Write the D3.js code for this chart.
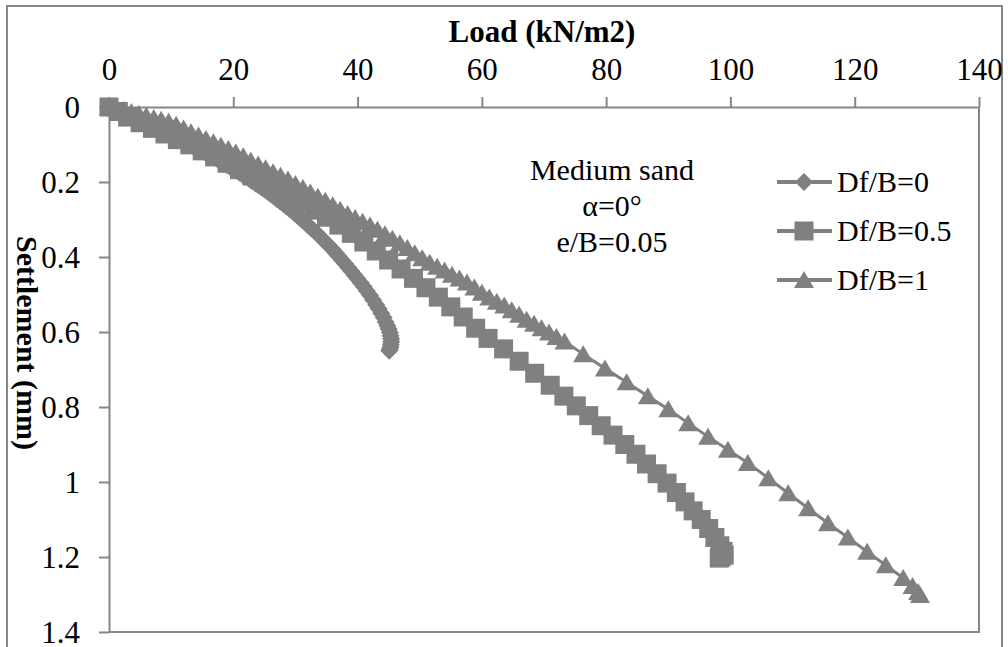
<!DOCTYPE html>
<html>
<head>
<meta charset="utf-8">
<title>Load - settlement</title>
<script src="https://cdn.jsdelivr.net/npm/d3@7"></script>
<style>
  body { margin: 0; background: #fff; }
  text { font-family: "Liberation Serif", "Times New Roman", serif; fill: #000; }
</style>
</head>
<body>
<script>
// load (kN/m2) vs settlement (mm)
var seriesNames = ["Df/B=0", "Df/B=0.5", "Df/B=1"];

var load0 = [0,0.5,1,1.5,2,2.5,3,3.5,4,4.5,5,5.5,6,6.5,7,7.5,8,8.5,9,9.5,10,10.5,11,11.5,12,12.5,
  13,13.5,14,14.5,15,15.5,16,16.5,17,17.5,18,18.5,19,19.5,20,20.5,21,21.5,22,22.5,23,23.5,24,24.5,
  25,25.5,26,26.5,27,27.5,28,28.5,29,29.5,30,30.5,31,31.5,32,32.5,33,33.5,34,34.5,35,35.5,36,36.5,
  37,37.5,38,38.5,39,39.5,40,40.5,41,41.5,42,42.5,43,43.4,43.8,44.2,44.5,44.8,45,45.2,45.3,45.4,
  45.4,45.35,45.3,45.2,45.1];
var settle0 = [0,0.0035,0.007,0.0105,0.014,0.0175,0.021,0.0245,0.028,0.032,0.036,0.0395,0.043,0.047,
  0.051,0.055,0.059,0.063,0.067,0.071,0.075,0.079,0.083,0.087,0.091,0.0955,0.1,0.104,0.108,0.1125,
  0.117,0.1215,0.126,0.1305,0.135,0.14,0.145,0.15,0.155,0.16,0.165,0.17,0.175,0.1805,0.186,0.1915,
  0.197,0.2025,0.208,0.214,0.22,0.226,0.232,0.2385,0.245,0.2515,0.258,0.2645,0.271,0.278,0.285,
  0.2925,0.3,0.3075,0.315,0.3225,0.33,0.338,0.346,0.3545,0.363,0.3715,0.38,0.3895,0.399,0.4085,
  0.418,0.428,0.438,0.448,0.458,0.4685,0.479,0.4905,0.502,0.5145,0.527,0.538,0.55,0.561,0.573,
  0.583,0.592,0.601,0.61,0.618,0.626,0.633,0.64,0.645,0.65];

var load05 = [0,1.5,3,5,7,9,11,13,15,17,19,21,23,25,27,29,31,33,35,37,39,41,43,45,47,49,51,53,55,
  57,59,61,63.5,66,68.5,71,73.2,75.2,77.2,79.2,81.1,83,84.8,86.5,88.2,89.8,91.3,92.7,94,95.3,
  96.5,97.5,98.3,98.8,99,98.5,98.2];
var settle05 = [0,0.012,0.027,0.042,0.057,0.072,0.087,0.101,0.117,0.133,0.15,0.167,0.184,0.202,
  0.22,0.238,0.256,0.275,0.294,0.315,0.337,0.36,0.384,0.408,0.432,0.457,0.482,0.507,0.533,0.56,
  0.59,0.617,0.645,0.678,0.71,0.742,0.771,0.797,0.823,0.85,0.875,0.9,0.926,0.952,0.978,1.003,
  1.028,1.053,1.077,1.1,1.124,1.148,1.17,1.185,1.195,1.2,1.203];

var load1 = [0,1.2,2.4,3.6,4.8,6,7.2,8.4,9.6,10.8,12,13.2,14.4,15.6,16.8,18,19.2,20.4,21.6,22.8,24,
  25.2,26.4,27.6,28.8,30,31.2,32.4,33.6,34.8,36,37.2,38.4,39.6,40.8,42,43.2,44.4,45.6,46.8,48,49.2,
  50.4,51.6,52.8,54,55.2,56.4,57.6,58.8,60,61.2,62.4,63.6,64.8,66,67.2,68.4,69.6,70.8,72,73.3,
  76.3,79.8,83.3,86.7,90,93.2,96.4,99.6,102.8,106.1,109.3,112.5,115.7,118.9,122,125,127.8,129.3,
  130.2,130.5];
var settle1 = [0,0.004,0.008,0.013,0.018,0.023,0.029,0.034,0.039,0.047,0.057,0.067,0.076,0.085,
  0.094,0.103,0.112,0.121,0.131,0.143,0.153,0.163,0.174,0.183,0.193,0.205,0.216,0.228,0.239,0.25,
  0.262,0.274,0.285,0.296,0.306,0.316,0.327,0.339,0.351,0.363,0.376,0.39,0.403,0.415,0.426,0.436,
  0.447,0.457,0.468,0.481,0.495,0.508,0.519,0.529,0.542,0.554,0.567,0.578,0.59,0.601,0.613,0.625,
  0.659,0.697,0.734,0.771,0.806,0.843,0.879,0.914,0.949,0.99,1.03,1.07,1.11,1.148,1.186,1.222,
  1.256,1.277,1.293,1.301];

var xTicks = [0,20,40,60,80,100,120,140];
var yTicks = [0,0.2,0.4,0.6,0.8,1,1.2,1.4];
var noteLines = ["Medium sand", "\u03b1=0\u00b0", "e/B=0.05"];

var W = 1008, H = 647;
var grey = "#808080", axisGrey = "#868686";

var svg = d3.select("body").append("svg").attr("width", W).attr("height", H);

var x = d3.scaleLinear().domain([0, 140]).range([109, 979]);
var y = d3.scaleLinear().domain([0, 1.4]).range([107, 632]);

// outer chart frame
svg.append("rect").attr("x", 7).attr("y", 6).attr("width", 995).attr("height", 660)
  .attr("fill", "none").attr("stroke", axisGrey).attr("stroke-width", 2);

// plot area frame (right and bottom)
svg.append("path")
  .attr("d", "M" + x(0) + "," + y(1.4) + "H" + x(140) + "V" + y(0))
  .attr("fill", "none").attr("stroke", axisGrey).attr("stroke-width", 2);

var xAxis = svg.append("g").attr("transform", "translate(0," + y(0) + ")")
  .call(d3.axisTop(x).tickValues(xTicks).tickSize(10).tickSizeOuter(0).tickPadding(17)
    .tickFormat(d3.format("d")));
var yAxis = svg.append("g").attr("transform", "translate(" + x(0) + ",0)")
  .call(d3.axisLeft(y).tickValues(yTicks).tickSize(10).tickSizeOuter(0).tickPadding(19)
    .tickFormat(function(d) { return String(+d.toFixed(1)); }));

[xAxis, yAxis].forEach(function(g) {
  g.select(".domain").attr("stroke", axisGrey).attr("stroke-width", 2);
  g.selectAll(".tick line").attr("stroke", axisGrey).attr("stroke-width", 2);
  g.selectAll(".tick text").attr("font-size", 31)
    .attr("font-family", "Liberation Serif, Times New Roman, serif").attr("fill", "#000");
});
yAxis.selectAll(".tick text").attr("dy", "0.33em");

svg.append("text").attr("x", 542).attr("y", 42).attr("text-anchor", "middle")
  .attr("font-size", 31).attr("font-weight", "bold").text("Load (kN/m2)");
svg.append("text").attr("transform", "translate(27,343) rotate(90)")
  .attr("text-anchor", "middle").attr("dy", "0.33em")
  .attr("font-size", 30).attr("font-weight", "bold").text("Settlement (mm)");

// markers
var diamond = "M0,-9L9,0L0,9L-9,0Z";
var square = "M-9.5,-9.5H9.5V9.5H-9.5Z";
var triangle = "M0,-9L10,8H-10Z";
var shapes = [diamond, square, triangle];

var data = [
  load0.map(function(v, i) { return [v, settle0[i]]; }),
  load05.map(function(v, i) { return [v, settle05[i]]; }),
  load1.map(function(v, i) { return [v, settle1[i]]; })
];

var line = d3.line().x(function(d) { return x(d[0]); }).y(function(d) { return y(d[1]); });

data.forEach(function(pts, k) {
  var g = svg.append("g");
  g.append("path").attr("d", line(pts)).attr("fill", "none")
    .attr("stroke", grey).attr("stroke-width", 3);
  g.selectAll("path.m").data(pts).enter().append("path").attr("class", "m")
    .attr("d", shapes[k]).attr("fill", grey)
    .attr("transform", function(d) { return "translate(" + x(d[0]) + "," + y(d[1]) + ")"; });
});

// note
svg.selectAll("text.note").data(noteLines).enter().append("text").attr("class", "note")
  .attr("x", 612).attr("y", function(d, i) { return 180 + i * 36; })
  .attr("text-anchor", "middle").attr("font-size", 30).text(function(d) { return d; });

// legend
var leg = svg.selectAll("g.leg").data(seriesNames).enter().append("g").attr("class", "leg")
  .attr("transform", function(d, i) { return "translate(777," + (182 + i * 49) + ")"; });
leg.append("line").attr("x1", 0).attr("x2", 55).attr("stroke", grey).attr("stroke-width", 4);
leg.append("path").attr("d", function(d, i) { return shapes[i]; })
  .attr("transform", "translate(27,0)").attr("fill", grey);
leg.append("text").attr("x", 60).attr("dy", "0.33em").attr("font-size", 30)
  .text(function(d) { return d; });
</script>
</body>
</html>
